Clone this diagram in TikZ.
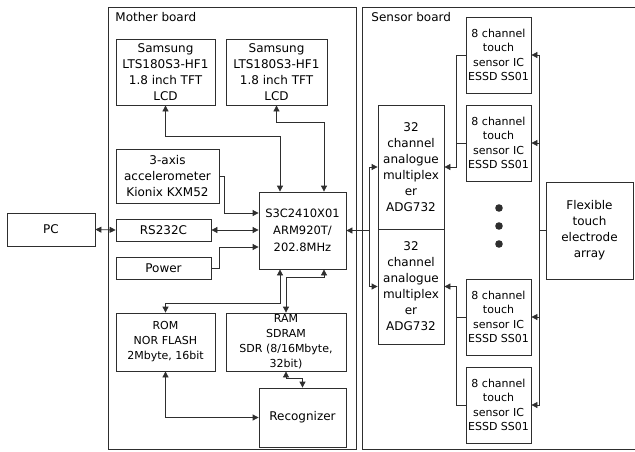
\documentclass[tikz,border=0pt]{standalone}
\usepackage{fontspec}
\setmainfont{DejaVu Sans}
\usepackage{tikz}
\usetikzlibrary{arrows.meta}
\definecolor{linegray}{HTML}{2E2E2E}
\newcommand{\boxfont}{\fontsize{12}{16}\selectfont}
\newcommand{\cpufont}{\fontsize{11.5}{17}\selectfont}
\newcommand{\memfont}{\fontsize{11}{15}\selectfont}
\newcommand{\icfont}{\fontsize{11}{14.5}\selectfont}

\begin{document}
\begin{tikzpicture}[x=1pt, y=-1pt, line width=0.8pt, draw=linegray,
  >={Triangle[length=6pt,width=6pt]},
  blk/.style={draw=linegray, align=center, inner sep=1pt, font=\boxfont},
  frame/.style={draw=linegray, line width=0.9pt}]
\useasboundingbox (0,0) rectangle (635,451);
\clip (0,0) rectangle (635,451);

\draw[frame] (108,7) rectangle (356,449);
\draw[frame] (362,7) rectangle (640,449);
\node[anchor=west, inner sep=0pt, font=\boxfont] (mblabel) at (115,17) {Mother board};
\node[anchor=west, inner sep=0pt, font=\boxfont] (sblabel) at (371,17) {Sensor board};

\node[blk, minimum width=88pt, minimum height=33pt] (pc) at (51,229.5) {PC};
\node[blk, minimum width=95pt, minimum height=22pt] (rs) at (163.5,230) {RS232C};
\node[blk, minimum width=95pt, minimum height=22pt] (pow) at (163.5,268) {Power};
\node[blk, minimum width=103pt, minimum height=54pt] (acc) at (167.5,176)
  {3-axis\\accelerometer\\Kionix KXM52};
\node[blk, minimum width=99pt, minimum height=66pt] (lcda) at (165.5,72)
  {Samsung\\LTS180S3-HF1\\1.8 inch TFT\\LCD};
\node[blk, minimum width=101pt, minimum height=66pt] (lcdb) at (276.5,72)
  {Samsung\\LTS180S3-HF1\\1.8 inch TFT\\LCD};
\node[blk, font=\cpufont, minimum width=87pt, minimum height=77pt] (cpu) at (302.5,230.5)
  {S3C2410X01\\ARM920T/\\202.8MHz};
\node[blk, font=\memfont, minimum width=99pt, minimum height=58pt] (rom) at (165.5,342)
  {ROM\\NOR FLASH\\2Mbyte, 16bit};
\node[blk, font=\memfont, minimum width=120pt, minimum height=58pt] (ram) at (286,342)
  {RAM\\SDRAM\\SDR (8/16Mbyte,\\32bit)};
\node[blk, minimum width=87pt, minimum height=59pt] (rec) at (302.5,417.5) {Recognizer};

\node[blk, minimum width=66pt, minimum height=124pt] (muxa) at (411,167)
  {32\\channel\\analogue\\multiplex\\er\\ADG732};
\node[blk, minimum width=66pt, minimum height=115pt] (muxb) at (411,286.5)
  {32\\channel\\analogue\\multiplex\\er\\ADG732};
\node[blk, font=\icfont, minimum width=65pt, minimum height=76pt] (ica) at (498.5,55)
  {8 channel\\touch\\sensor IC\\ESSD SS01};
\node[blk, font=\icfont, minimum width=65pt, minimum height=76pt] (icb) at (498.5,143)
  {8 channel\\touch\\sensor IC\\ESSD SS01};
\node[blk, font=\icfont, minimum width=65pt, minimum height=76pt] (icc) at (498.5,317)
  {8 channel\\touch\\sensor IC\\ESSD SS01};
\node[blk, font=\icfont, minimum width=65pt, minimum height=76pt] (icd) at (498.5,405)
  {8 channel\\touch\\sensor IC\\ESSD SS01};
\node[blk, minimum width=87pt, minimum height=97pt] (flex) at (589.5,230.5)
  {Flexible\\touch\\electrode\\array};

\foreach \y in {208,226,244}
  \fill[linegray] (499,\y) circle (3.8pt);

\coordinate (cbus) at ([xshift=-8pt]muxa.west);
\coordinate (fbus) at ([xshift=-6pt]flex.west);
\coordinate (ibus) at ([xshift=-9pt]ica.west);

% mother board
\draw[<->] (pc.east) -- (rs.west);
\draw[<->] (rs.east) -- (cpu.west |- rs.east);
\draw[<->] (lcda.south) -- ++(0,31) -| ([xshift=-22.5pt]cpu.north);
\draw[<->] (lcdb.south) -- ++(0,17) -| ([xshift=21.5pt]cpu.north);
\draw[->] (acc.east) -- ++(5,0) |- ([yshift=17.5pt]cpu.west);
\draw[->] (pow.east) -- ++(8,0) |- ([yshift=-16.5pt]cpu.west);
\draw[<->] ([xshift=-22.5pt]cpu.south) -- ++(0,34) -| (rom.north);
\draw[<->] ([xshift=21.5pt]cpu.south) -- ++(0,8) -| (ram.north);
\draw[<->] (rom.south) |- (rec.west);
\draw[<->] (ram.south) -- ++(0,7) -| (rec.north);

% sensor board
\draw[->] (cbus |- cpu.east) -- (cpu.east);
\draw[->] (cbus |- muxb.west) |- (muxa.west);
\draw[->] (cbus |- muxb.west) -- (muxb.west);
\draw[->] (ica.west) -- (ibus) |- (muxa.east);
\draw (icb.west) -- (ibus |- icb.west);
\draw[->] (icd.west) -- (ibus |- icd.west) |- (muxb.east);
\draw (icc.west) -- (ibus |- icc.west);
\draw (flex.west) -- (fbus);
\draw (fbus |- ica.east) -- (fbus |- icd.east);
\foreach \ic in {ica,icb,icc,icd}
  \draw[->] (fbus |- \ic.east) -- (\ic.east);
\end{tikzpicture}
\end{document}
